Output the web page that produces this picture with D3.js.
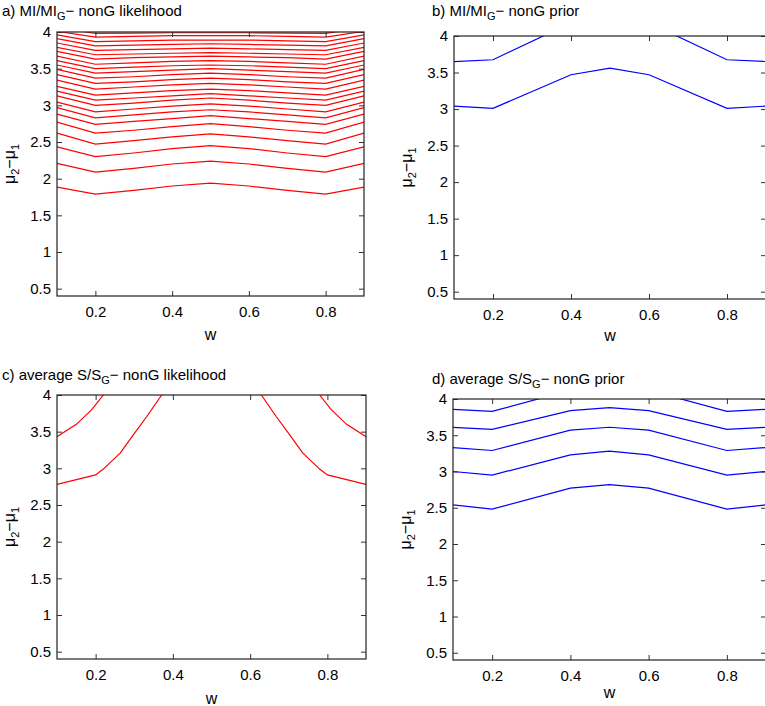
<!DOCTYPE html>
<html><head><meta charset="utf-8">
<script src="https://cdn.jsdelivr.net/npm/d3@7"></script>
<style>body{margin:0;background:#fff}text{font-family:"Liberation Sans",Arial,sans-serif}</style>
</head><body><svg id="c" width="765" height="706"></svg>
<script>
const xTicks=[0.2,0.4,0.6,0.8];
const yTicks=[0.5,1,1.5,2,2.5,3,3.5,4];
const wA=[0.1,0.2,0.3,0.4,0.5,0.6,0.7,0.8,0.9];
const linesA=[
[1.885,1.79,1.84,1.90,1.94,1.90,1.84,1.79,1.885],
[2.21,2.09,2.14,2.20,2.24,2.20,2.14,2.09,2.21],
[2.435,2.30,2.35,2.41,2.45,2.41,2.35,2.30,2.435],
[2.62,2.47,2.52,2.57,2.61,2.57,2.52,2.47,2.62],
[2.77,2.62,2.66,2.71,2.75,2.71,2.66,2.62,2.77],
[2.88,2.74,2.78,2.82,2.86,2.82,2.78,2.74,2.88],
[2.97,2.83,2.87,2.91,2.94,2.91,2.87,2.83,2.97],
[3.045,2.91,2.95,2.99,3.02,2.99,2.95,2.91,3.045],
[3.13,3.00,3.03,3.07,3.10,3.07,3.03,3.00,3.13],
[3.195,3.07,3.10,3.13,3.16,3.13,3.10,3.07,3.195],
[3.26,3.14,3.17,3.20,3.22,3.20,3.17,3.14,3.26],
[3.345,3.22,3.25,3.28,3.30,3.28,3.25,3.22,3.345],
[3.42,3.30,3.32,3.35,3.37,3.35,3.32,3.30,3.42],
[3.49,3.37,3.39,3.42,3.44,3.42,3.39,3.37,3.49],
[3.55,3.44,3.46,3.48,3.50,3.48,3.46,3.44,3.55],
[3.61,3.50,3.52,3.54,3.55,3.54,3.52,3.50,3.61],
[3.67,3.56,3.58,3.60,3.61,3.60,3.58,3.56,3.67],
[3.735,3.63,3.65,3.66,3.67,3.66,3.65,3.63,3.735],
[3.79,3.69,3.70,3.71,3.72,3.71,3.70,3.69,3.79],
[3.85,3.75,3.76,3.77,3.78,3.77,3.76,3.75,3.85],
[3.91,3.81,3.82,3.83,3.84,3.83,3.82,3.81,3.91],
[3.96,3.87,3.88,3.89,3.89,3.89,3.88,3.87,3.96],
[4.01,3.93,3.94,3.95,3.95,3.95,3.94,3.93,4.01],
[4.06,3.98,3.985,3.99,3.99,3.99,3.985,3.98,4.06]];
const wB=[0.1,0.2,0.4,0.5,0.6,0.8,0.9];
const linesB=[
[3.04,3.01,3.47,3.56,3.47,3.01,3.04],
[3.65,3.675,4.18,4.3,4.18,3.675,3.65]];
const wC1=[0.1,0.15,0.19,0.22], valC1=[3.43,3.6,3.8,4.0];
const wC2=[0.1,0.2,0.22,0.264,0.298,0.333,0.371], valC2=[2.78,2.91,2.99,3.21,3.46,3.71,4.0];
const wC3=[0.9,0.85,0.81,0.78], valC3=[3.43,3.6,3.8,4.0];
const wC4=[0.9,0.8,0.78,0.736,0.702,0.667,0.629], valC4=[2.78,2.91,2.99,3.21,3.46,3.71,4.0];
const wD=[0.1,0.2,0.4,0.5,0.6,0.8,0.9];
const linesD=[
[2.54,2.48,2.77,2.82,2.77,2.48,2.54],
[3.0,2.95,3.23,3.28,3.23,2.95,3.0],
[3.33,3.29,3.57,3.61,3.57,3.29,3.33],
[3.61,3.58,3.84,3.88,3.84,3.58,3.61],
[3.857,3.83,4.12,4.2,4.12,3.83,3.857]];

const svg=d3.select("#c");
let clipId=0;
function panel(o){
  const x=d3.scaleLinear().domain([0.1,0.9]).range([o.l,o.r]);
  const y=d3.scaleLinear().domain([0.4,4]).range([o.b,o.t]);
  const id="cl"+(clipId++);
  svg.append("clipPath").attr("id",id).append("rect").attr("x",o.l).attr("y",o.t).attr("width",o.r-o.l).attr("height",o.b-o.t);
  const g=svg.append("g");
  const line=d3.line().x(d=>x(d[0])).y(d=>y(d[1]));
  const lg=g.append("g").attr("clip-path",`url(#${id})`);
  o.series.forEach(s=>lg.append("path").attr("d",line(s.w.map((w,i)=>[w,s.v[i]]))).attr("fill","none").attr("stroke",o.color).attr("stroke-width",1.2));
  const ax=(gen,tr)=>{const a=g.append("g").attr("transform",tr).call(gen);a.select(".domain").remove();a.selectAll("line").attr("stroke","#333");a.selectAll("text").attr("font-size",15).attr("fill","#000");return a;};
  ax(d3.axisBottom(x).tickValues(xTicks).tickSize(-5).tickPadding(10).tickFormat(d3.format(".1f")),`translate(0,${o.b})`);
  ax(d3.axisTop(x).tickValues(xTicks).tickSize(-5).tickFormat(""),`translate(0,${o.t})`);
  ax(d3.axisLeft(y).tickValues(yTicks).tickSize(-5).tickPadding(6).tickFormat(d=>d),`translate(${o.l},0)`);
  ax(d3.axisRight(y).tickValues(yTicks).tickSize(-5).tickFormat(""),`translate(${o.r},0)`);
  g.append("rect").attr("x",o.l).attr("y",o.t).attr("width",o.r-o.l).attr("height",o.b-o.t).attr("fill","none").attr("stroke","#222").attr("stroke-width",1.2);
  g.append("text").attr("x",(o.l+o.r)/2).attr("y",o.b+o.wl).attr("text-anchor","middle").attr("font-size",16).text("w");
  const yl=g.append("text").attr("transform",`translate(${o.l-42},${(o.t+o.b)/2}) rotate(-90)`).attr("text-anchor","middle").attr("font-size",16);
  yl.append("tspan").text("μ");yl.append("tspan").attr("font-size",11).attr("dy",4).text("2");
  yl.append("tspan").attr("dy",-4).text("−μ");yl.append("tspan").attr("font-size",11).attr("dy",4).text("1");
  const t=g.append("text").attr("x",o.tx).attr("y",o.ty).attr("font-size",15);
  t.append("tspan").text(o.title[0]);t.append("tspan").attr("font-size",11).attr("dy",4).text("G");
  t.append("tspan").attr("dy",-4).text(o.title[1]);
}
panel({l:57,r:364,t:32,b:296,wl:44,color:"#ff0000",tx:2,ty:16,title:["a) MI/MI","− nonG likelihood"],
  series:linesA.map(v=>({w:wA,v}))});
panel({l:454,r:766,t:36,b:299,wl:42,color:"#0000ff",tx:432,ty:16,title:["b) MI/MI","− nonG prior"],
  series:linesB.map(v=>({w:wB,v}))});
panel({l:57,r:366,t:395,b:659,wl:45,color:"#ff0000",tx:2,ty:380,title:["c) average S/S","− nonG likelihood"],
  series:[{w:wC1,v:valC1},{w:wC2,v:valC2},{w:wC3,v:valC3},{w:wC4,v:valC4}]});
panel({l:453,r:766,t:399,b:660,wl:38,color:"#0000ff",tx:432,ty:384,title:["d) average S/S","− nonG prior"],
  series:linesD.map(v=>({w:wD,v}))});
</script></body></html>
